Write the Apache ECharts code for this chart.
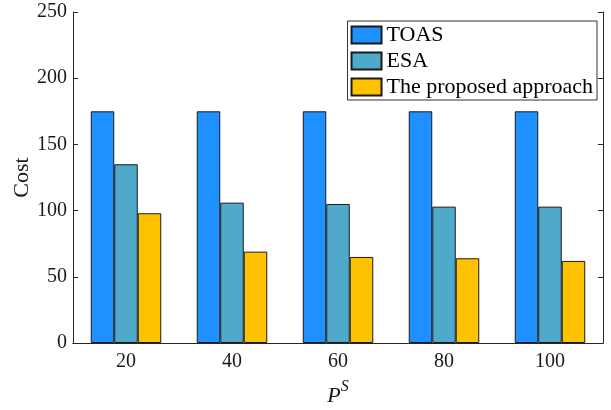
<!DOCTYPE html>
<html>
<head>
<meta charset="utf-8">
<script src="https://cdn.jsdelivr.net/npm/echarts@6/dist/echarts.min.js"></script>
<style>html,body{margin:0;padding:0;background:#fff}#c{width:611px;height:410px}</style>
</head>
<body>
<div id="c"></div>
<script>
const categories = ['20', '40', '60', '80', '100'];
const toas = [175, 175, 175, 175, 175];
const esa = [135, 106, 105, 103, 103];
const proposed = [98, 69, 65, 64, 62];
const seriesNames = ['TOAS', 'ESA', 'The proposed approach'];
const yTicks = { min: 0, max: 250, interval: 50 };

const FONT = '"Liberation Serif", "Times New Roman", serif';
const AX = '#262626';
const TXT = '#1a1a1a';
const chart = echarts.init(document.getElementById('c'), null, { renderer: 'canvas' });
const barStyle = (c) => ({ color: c, borderColor: '#1a1a1a', borderWidth: 1 });
chart.setOption({
  animation: false,
  backgroundColor: '#fff',
  grid: { left: 73, right: 8, top: 12, bottom: 67, containLabel: false, outerBoundsMode: 'none' },
  legend: {
    orient: 'vertical', right: 14, top: 21,
    icon: 'rect',
    itemWidth: 30, itemHeight: 17, itemGap: 4,
    padding: [3, 4, 2, 3],
    borderColor: '#333', borderWidth: 1, backgroundColor: '#fff',
    textStyle: { fontFamily: FONT, fontSize: 22, lineHeight: 22, color: '#000' },
    data: seriesNames
  },
  xAxis: [{
    type: 'category', data: categories, position: 'bottom',
    axisLine: { lineStyle: { color: AX, width: 1 } },
    axisTick: { inside: true, alignWithLabel: true, length: 5, lineStyle: { color: AX } },
    axisLabel: { fontFamily: FONT, fontSize: 20, color: TXT, margin: 9 },
    name: '{p|P}{s|S}', nameLocation: 'middle', nameGap: 36, nameMoveOverlap: false,
    nameTextStyle: {
      rich: {
        p: { fontFamily: FONT, fontStyle: 'italic', fontSize: 22, color: TXT, verticalAlign: 'bottom' },
        s: { fontFamily: FONT, fontStyle: 'italic', fontSize: 16, color: TXT, verticalAlign: 'top', padding: [0, 0, 12, 0] }
      }
    }
  }, {
    type: 'category', data: categories, position: 'top',
    axisLine: { lineStyle: { color: AX, width: 1 } },
    axisTick: { inside: true, alignWithLabel: true, length: 5, lineStyle: { color: AX } },
    axisLabel: { show: false }
  }],
  yAxis: [{
    type: 'value', min: yTicks.min, max: yTicks.max, interval: yTicks.interval, position: 'left',
    axisLine: { show: true, lineStyle: { color: AX, width: 1 } },
    axisTick: { show: true, inside: true, length: 5, lineStyle: { color: AX } },
    splitLine: { show: false },
    axisLabel: { fontFamily: FONT, fontSize: 20, color: TXT, margin: 6 },
    name: 'Cost', nameLocation: 'middle', nameGap: 40, nameRotate: 90, nameMoveOverlap: false,
    nameTextStyle: { fontFamily: FONT, fontSize: 22, color: TXT }
  }, {
    type: 'value', min: yTicks.min, max: yTicks.max, interval: yTicks.interval, position: 'right',
    axisLine: { show: true, lineStyle: { color: AX, width: 1 } },
    axisTick: { show: true, inside: true, length: 5, lineStyle: { color: AX } },
    splitLine: { show: false },
    axisLabel: { show: false }
  }],
  series: [
    { name: seriesNames[0], type: 'bar', data: toas, barWidth: 23.5, barGap: '0%', itemStyle: barStyle('#1E90FF') },
    { name: seriesNames[1], type: 'bar', data: esa, barWidth: 23.5, barGap: '0%', itemStyle: barStyle('#4FA9CA') },
    { name: seriesNames[2], type: 'bar', data: proposed, barWidth: 23.5, barGap: '0%', itemStyle: barStyle('#FFC200') }
  ]
});
</script>
</body>
</html>
